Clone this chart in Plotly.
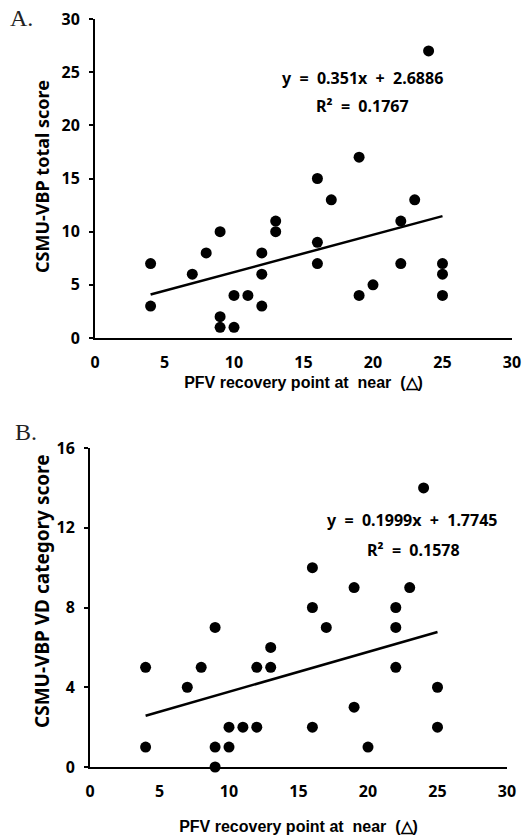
import plotly.graph_objects as go

# Panel A data
a_x = [4, 4, 7, 8, 9, 9, 9, 10, 10, 11, 12, 12, 12, 13, 13, 16, 16, 16, 17, 19, 19, 20, 22, 22, 23, 24, 25, 25, 25]
a_y = [7, 3, 6, 8, 10, 2, 1, 4, 1, 4, 8, 6, 3, 11, 10, 15, 9, 7, 13, 17, 4, 5, 11, 7, 13, 27, 7, 6, 4]
a_slope, a_int = 0.351, 2.6886

# Panel B data
b_x = [4, 4, 7, 8, 9, 9, 9, 10, 10, 11, 12, 12, 13, 13, 16, 16, 16, 17, 19, 19, 20, 22, 22, 22, 23, 24, 25, 25]
b_y = [5, 1, 4, 5, 7, 1, 0, 2, 1, 2, 5, 2, 6, 5, 10, 8, 2, 7, 9, 3, 1, 8, 7, 5, 9, 14, 4, 2]
b_slope, b_int = 0.1999, 1.7745

fit_x = [4, 25]

a_xticks = [0, 5, 10, 15, 20, 25, 30]
a_yticks = [0, 5, 10, 15, 20, 25, 30]
b_xticks = [0, 5, 10, 15, 20, 25, 30]
b_yticks = [0, 4, 8, 12, 16]

W, H = 525, 838
FONT = "Noto Sans"
NB = "\u00a0"

def px_x(p):
    return p / W

def px_y(p):
    return (H - p) / H

fig = go.Figure()
mk = dict(color="black", size=11)
fig.add_trace(go.Scatter(x=a_x, y=a_y, mode="markers", marker=mk, xaxis="x", yaxis="y", cliponaxis=False))
fig.add_trace(go.Scatter(x=fit_x, y=[a_slope * v + a_int for v in fit_x], mode="lines",
                         line=dict(color="black", width=2.5), xaxis="x", yaxis="y"))
fig.add_trace(go.Scatter(x=b_x, y=b_y, mode="markers", marker=mk, xaxis="x2", yaxis="y2", cliponaxis=False))
fig.add_trace(go.Scatter(x=fit_x, y=[b_slope * v + b_int for v in fit_x], mode="lines",
                         line=dict(color="black", width=2.5), xaxis="x2", yaxis="y2"))

tickfont = dict(family=FONT, size=16, color="black", weight="bold")
xtitlefont = dict(family="Liberation Sans", size=16, color="black", weight="bold")

common_x = dict(range=[0, 30], showline=True, linecolor="black", linewidth=2, showgrid=False,
                zeroline=False, ticks="", tickfont=tickfont, automargin=False, ticklabelstandoff=9)
common_y = dict(showline=True, linecolor="black", linewidth=2, showgrid=False, zeroline=False,
                ticks="outside", ticklen=4, tickwidth=1.5, tickcolor="black", tickfont=tickfont,
                automargin=False, ticklabelstandoff=6)

XT = f"PFV recovery point at{NB} near{NB} (△)"

fig.update_layout(
    template="none",
    width=W, height=H,
    autosize=False,
    margin=dict(l=0, r=0, t=0, b=0, pad=0, autoexpand=False),
    paper_bgcolor="white", plot_bgcolor="white",
    showlegend=False,
    xaxis=dict(common_x, domain=[px_x(95), px_x(512)], anchor="y", tickvals=a_xticks,
               title=dict(text=XT, font=xtitlefont, standoff=5)),
    yaxis=dict(common_y, domain=[px_y(338), px_y(19)], anchor="x", range=[0, 30], tickvals=a_yticks),
    xaxis2=dict(common_x, domain=[px_x(90), px_x(507)], anchor="y2", tickvals=b_xticks,
                title=dict(text=XT, font=xtitlefont, standoff=20)),
    yaxis2=dict(common_y, domain=[px_y(767), px_y(448)], anchor="x2", range=[0, 16], tickvals=b_yticks),
)

# y-axis titles (placed as rotated annotations to match their off-centre placement)
fig.add_annotation(text="CSMU-VBP total score", x=px_x(42), y=px_y(177), xref="paper", yref="paper",
                   showarrow=False, textangle=-90, xanchor="center", yanchor="middle",
                   font=dict(family=FONT, size=18, color="black", weight="bold"))
fig.add_annotation(text="CSMU-VBP VD category score", x=px_x(42), y=px_y(591), xref="paper", yref="paper",
                   showarrow=False, textangle=-90, xanchor="center", yanchor="middle",
                   font=dict(family=FONT, size=19, color="black", weight="bold"))

eqfont = dict(family=FONT, size=16, color="black", weight="bold")
labfont = dict(family="Liberation Serif", size=24, color="#222222")

def eq_text(slope, intercept):
    return f"y{NB}{NB}={NB}{NB}{slope}x{NB}{NB}+{NB}{NB}{intercept}"

fig.add_annotation(text=eq_text(a_slope, a_int), x=px_x(362), y=px_y(78), xref="paper", yref="paper",
                   showarrow=False, font=eqfont, xanchor="center", yanchor="middle")
fig.add_annotation(text=f"R²{NB}{NB}={NB}{NB}0.1767", x=px_x(362), y=px_y(106), xref="paper", yref="paper",
                   showarrow=False, font=eqfont, xanchor="center", yanchor="middle")
fig.add_annotation(text=eq_text(b_slope, b_int), x=px_x(412), y=px_y(520), xref="paper", yref="paper",
                   showarrow=False, font=eqfont, xanchor="center", yanchor="middle")
fig.add_annotation(text=f"R²{NB}{NB}={NB}{NB}0.1578", x=px_x(413), y=px_y(550), xref="paper", yref="paper",
                   showarrow=False, font=eqfont, xanchor="center", yanchor="middle")
fig.add_annotation(text="A.", x=px_x(8), y=px_y(18), xref="paper", yref="paper",
                   showarrow=False, font=labfont, xanchor="left", yanchor="middle")
fig.add_annotation(text="B.", x=px_x(13), y=px_y(432), xref="paper", yref="paper",
                   showarrow=False, font=labfont, xanchor="left", yanchor="middle")

fig.write_html("out.html", config={"displayModeBar": False},
               post_script="document.body.style.margin='0';document.body.style.overflow='hidden';")
